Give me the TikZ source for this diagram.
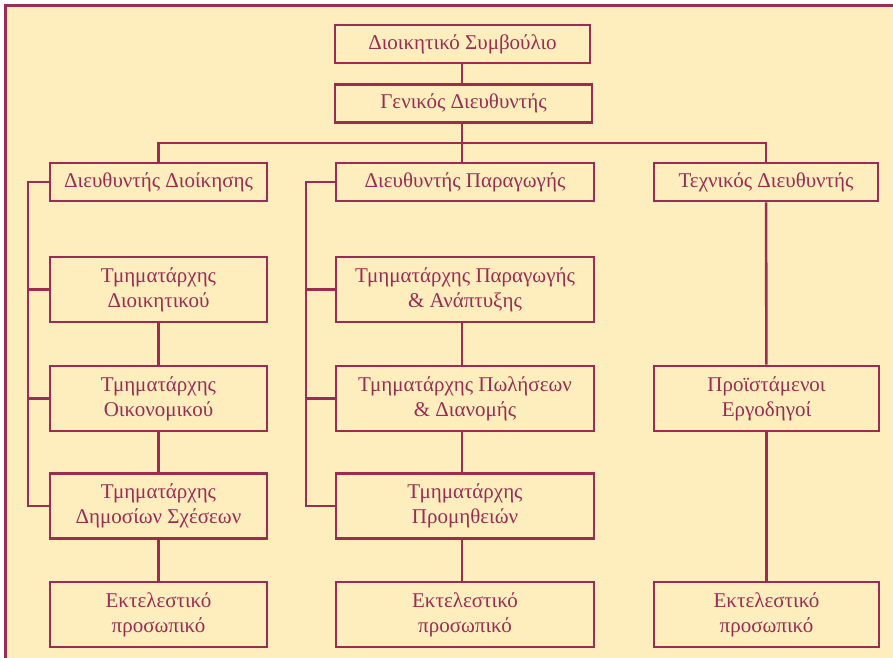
\documentclass[tikz,border=0pt]{standalone}
\usepackage{fontspec}
\setmainfont{Liberation Serif}
\usepackage{xcolor}
\usepackage{tikz}

\definecolor{wine}{RGB}{155,45,85}
\definecolor{cream}{RGB}{254,238,190}

\tikzset{
  box/.style={draw=wine, line width=2.6pt, fill=cream, text=wine, align=center,
    inner sep=0pt, minimum height=38pt, font=\fontsize{21}{25}\selectfont},
  tall/.style={minimum height=65pt},
  link/.style={draw=wine, line width=2.6pt},
}

\begin{document}
\begin{tikzpicture}[x=1pt,y=-1pt]
  \useasboundingbox (0,0) rectangle (893,657);
  \draw[wine, line width=2.6pt, fill=cream] (5.5,5.5) rectangle (910,680);

  \node[box, minimum width=255pt] (symv) at (462.5,44) {Διοικητικό Συμβούλιο};
  \node[box, minimum width=257pt] (gen) at (463.5,103.5) {Γενικός Διευθυντής};

  \node[box, minimum width=217pt] (ddio) at (158.5,182) {Διευθυντής Διοίκησης};
  \node[box, minimum width=258pt] (dpar) at (465,182) {Διευθυντής Παραγωγής};
  \node[box, minimum width=224pt] (dtex) at (766,182) {Τεχνικός Διευθυντής};

  \node[box, tall, minimum width=217pt] (tdio) at (158.5,289.5) {Τμηματάρχης\\Διοικητικού};
  \node[box, tall, minimum width=217pt] (toik) at (158.5,398.5) {Τμηματάρχης\\Οικονομικού};
  \node[box, tall, minimum width=217pt] (tdim) at (158.5,506) {Τμηματάρχης\\Δημοσίων Σχέσεων};

  \node[box, tall, minimum width=258pt] (tpar) at (465,289.5) {Τμηματάρχης Παραγωγής\\\& Ανάπτυξης};
  \node[box, tall, minimum width=258pt] (tpol) at (465,398.5) {Τμηματάρχης Πωλήσεων\\\& Διανομής};
  \node[box, tall, minimum width=258pt] (tpro) at (465,506) {Τμηματάρχης\\Προμηθειών};

  \node[box, tall, minimum width=225pt] (perg) at (766.5,398.5) {Προϊστάμενοι\\Εργοδηγοί};

  \node[box, tall, minimum width=217pt] (ekt1) at (158.5,614.5) {Εκτελεστικό\\προσωπικό};
  \node[box, tall, minimum width=258pt] (ekt2) at (465,614.5) {Εκτελεστικό\\προσωπικό};
  \node[box, tall, minimum width=225pt] (ekt3) at (766.5,614.5) {Εκτελεστικό\\προσωπικό};

  \coordinate (bus) at (462,143);
  \coordinate (lsp) at (28,0);
  \coordinate (msp) at (306,0);

  \draw[link] (symv.south -| bus) -- (gen.north -| bus);
  \draw[link] (gen.south -| bus) -- (dpar.north -| bus);
  \draw[link] (ddio.north) -- (ddio.north |- bus) -- (dtex.north |- bus) -- (dtex.north);

  \draw[link] (ddio.west) -- (ddio.west -| lsp) -- (tdim.west -| lsp) -- (tdim.west);
  \draw[link] (tdio.west -| lsp) -- (tdio.west);
  \draw[link] (toik.west -| lsp) -- (toik.west);
  \draw[link] (tdio) -- (toik);
  \draw[link] (toik) -- (tdim);
  \draw[link] (tdim) -- (ekt1);

  \draw[link] (dpar.west) -- (dpar.west -| msp) -- (tpro.west -| msp) -- (tpro.west);
  \draw[link] (tpar.west -| msp) -- (tpar.west);
  \draw[link] (tpol.west -| msp) -- (tpol.west);
  \draw[link] (tpar.south -| bus) -- (tpol.north -| bus);
  \draw[link] (tpol.south -| bus) -- (tpro.north -| bus);
  \draw[link] (tpro.south -| bus) -- (ekt2.north -| bus);

  \draw[link] (dtex) -- (perg);
  \draw[link] (perg) -- (ekt3);
\end{tikzpicture}
\end{document}
